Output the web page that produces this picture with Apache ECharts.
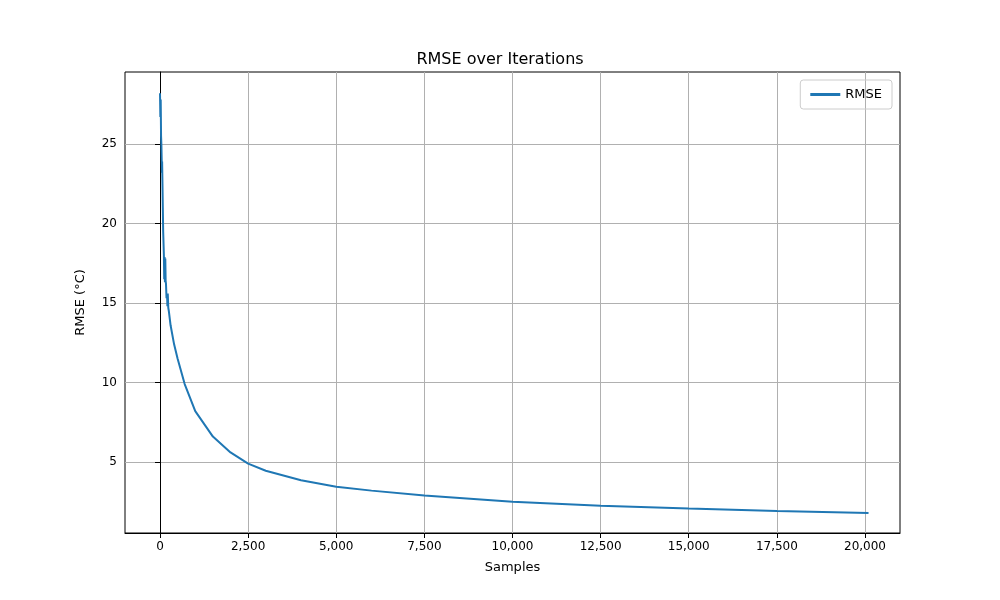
<!DOCTYPE html>
<html><head><meta charset="utf-8">
<script src="https://cdn.jsdelivr.net/npm/echarts@6/dist/echarts.min.js"></script>
<style>html,body{margin:0;padding:0;background:#fff}#c{width:1000px;height:600px}</style>
</head><body><div id="c"></div>
<script>
const samples = [0,10,20,30,40,55,60,70,80,90,110,120,130,140,150,160,170,185,200,210,220,235,250,300,400,500,700,1000,1500,2000,2500,3000,4000,5000,6000,7500,10000,12500,15000,17500,20100];
const rmse = [28.2,26.7,27.8,25.5,24.9,23.2,23.9,22.5,21.0,19.5,18.0,16.5,17.9,16.3,17.8,16.4,16.2,15.3,15.6,14.8,15.6,14.7,14.5,13.6,12.4,11.5,9.9,8.2,6.6,5.6,4.9,4.45,3.85,3.45,3.2,2.9,2.5,2.25,2.07,1.92,1.8];
const xTicks = [0,2500,5000,7500,10000,12500,15000,17500,20000];
const data = samples.map((s,i)=>[s,rmse[i]]);
const chart = echarts.init(document.getElementById('c'));
const font = 'DejaVu Sans';
chart.setOption({
  animation:false,
  textStyle:{fontFamily:font},
  title:{text:'RMSE over Iterations',left:'center',top:47,textStyle:{fontFamily:font,fontSize:16,fontWeight:'normal',color:'#000'}},
  legend:{data:['RMSE'],right:108,top:80,orient:'vertical',icon:'path://M0,0H30V3H0Z',itemWidth:30,itemHeight:3,
    borderColor:'#ccc',borderWidth:1,borderRadius:3,padding:[8,10],textStyle:{fontFamily:font,fontSize:13,color:'#000'}},
  grid:{left:125,right:100,top:72,bottom:67,show:true,borderColor:'#000',borderWidth:1},
  xAxis:{type:'value',min:-993,max:20993,interval:2500,name:'Samples',nameLocation:'middle',nameGap:28,
    nameTextStyle:{fontSize:13,color:'#000'},
    axisLine:{show:true,lineStyle:{color:'#000'}},axisTick:{show:true,length:5,lineStyle:{color:'#000'}},
    axisLabel:{fontSize:12,color:'#000',customValues:xTicks},axisTick:{customValues:xTicks,length:5,lineStyle:{color:'#000'}},
    splitLine:{show:true,lineStyle:{color:'#b0b0b0',width:1}}},
  yAxis:{type:'value',min:0.535,max:29.53,name:'RMSE (°C)',nameLocation:'middle',nameGap:38,
    nameTextStyle:{fontSize:13,color:'#000'},
    axisLine:{show:true,lineStyle:{color:'#000'}},
    axisLabel:{fontSize:12,color:'#000',customValues:[5,10,15,20,25]},axisTick:{show:true,customValues:[5,10,15,20,25],length:5,lineStyle:{color:'#000'}},
    splitLine:{show:true,lineStyle:{color:'#b0b0b0',width:1}}},
  series:[{name:'RMSE',type:'line',data:data,showSymbol:false,smooth:false,lineStyle:{color:'#1f77b4',width:2},itemStyle:{color:'#1f77b4'}}]
});
</script></body></html>
